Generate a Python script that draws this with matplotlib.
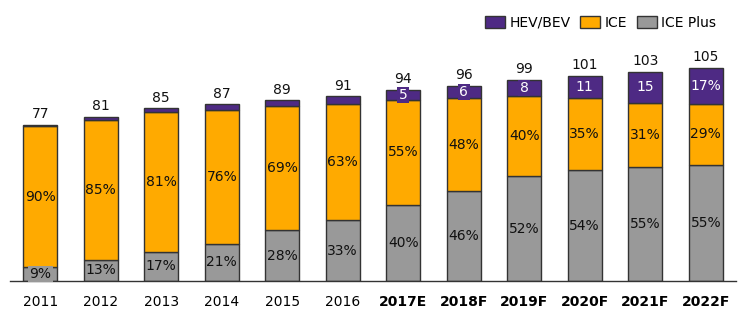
import matplotlib
matplotlib.use("Agg")
import matplotlib.pyplot as plt
from matplotlib.patches import Patch

years = ["2011", "2012", "2013", "2014", "2015", "2016",
         "2017E", "2018F", "2019F", "2020F", "2021F", "2022F"]
bold_years = ["2017E", "2018F", "2019F", "2020F", "2021F", "2022F"]
totals = [77, 81, 85, 87, 89, 91, 94, 96, 99, 101, 103, 105]
ice_plus_pct = [9, 13, 17, 21, 28, 33, 40, 46, 52, 54, 55, 55]
ice_pct = [90, 85, 81, 76, 69, 63, 55, 48, 40, 35, 31, 29]
hev_pct = [1, 2, 2, 3, 3, 4, 5, 6, 8, 11, 15, 17]
hev_labels = ["", "", "", "", "", "", "5", "6", "8", "11", "15", "17%"]

C_HEV = "#4E2A84"
C_ICE = "#FFAA00"
C_PLUS = "#999999"
EDGE = "#333333"

plt.rcParams['font.family'] = ['DejaVu Sans']
fig = plt.figure(figsize=(7.45, 3.22), dpi=100)
ax = fig.add_axes([10/745, 41/322, 726/745, 281/322])

x = list(range(len(years)))
w = 0.56
plus_h, ice_h, hev_h = [], [], []
for i in x:
    s = ice_plus_pct[i] + ice_pct[i] + hev_pct[i]
    plus_h.append(totals[i] * ice_plus_pct[i] / s)
    ice_h.append(totals[i] * ice_pct[i] / s)
    hev_h.append(totals[i] * hev_pct[i] / s)

ax.bar(x, plus_h, w, color=C_PLUS, edgecolor=EDGE, linewidth=1.0, zorder=2)
ax.bar(x, ice_h, w, bottom=plus_h, color=C_ICE, edgecolor=EDGE, linewidth=1.0, zorder=2)
bot2 = [a + b for a, b in zip(plus_h, ice_h)]
ax.bar(x, hev_h, w, bottom=bot2, color=C_HEV, edgecolor=EDGE, linewidth=1.0, zorder=2)

fs = 10
for i in x:
    bb = dict(boxstyle="square,pad=0.1", fc=C_PLUS, ec="none") if plus_h[i] < 9 else None
    ax.text(i, plus_h[i] / 2, f"{ice_plus_pct[i]}%", ha="center", va="center",
            fontsize=fs, color="#111111", zorder=4, bbox=bb)
    ax.text(i, plus_h[i] + ice_h[i] / 2, f"{ice_pct[i]}%", ha="center", va="center",
            fontsize=fs, color="#111111", zorder=4)
    if hev_labels[i]:
        bb = dict(boxstyle="square,pad=0.1", fc=C_HEV, ec="none") if hev_h[i] < 9 else None
        ax.text(i, bot2[i] + hev_h[i] / 2, hev_labels[i], ha="center", va="center",
                fontsize=fs, color="white", zorder=4, bbox=bb)
    ax.text(i, totals[i] + 1.8, f"{totals[i]}", ha="center", va="bottom",
            fontsize=fs, color="#111111", zorder=4)

ax.set_xlim(-0.5, 11.5)
ax.set_ylim(0, 138.4)
ax.set_xticks(x)
ax.set_xticklabels(years, fontsize=fs)
for lbl in ax.get_xticklabels():
    if lbl.get_text() in bold_years:
        lbl.set_fontweight("bold")
ax.tick_params(axis="x", length=0, pad=10)
ax.set_yticks([])
for side in ["top", "right", "left"]:
    ax.spines[side].set_visible(False)
ax.spines["bottom"].set_color("#333333")
ax.spines["bottom"].set_linewidth(1.0)

handles = [Patch(facecolor=C_HEV, edgecolor=EDGE, label="HEV/BEV"),
           Patch(facecolor=C_ICE, edgecolor=EDGE, label="ICE"),
           Patch(facecolor=C_PLUS, edgecolor=EDGE, label="ICE Plus")]
fig.legend(handles=handles, loc="center right", bbox_to_anchor=(716/745, 1 - 23/322),
           ncol=3, frameon=False, fontsize=fs, handlelength=1.45, handleheight=1.0,
           handletextpad=0.3, columnspacing=0.7, borderpad=0, borderaxespad=0)

fig.savefig("out.png", dpi=100)
